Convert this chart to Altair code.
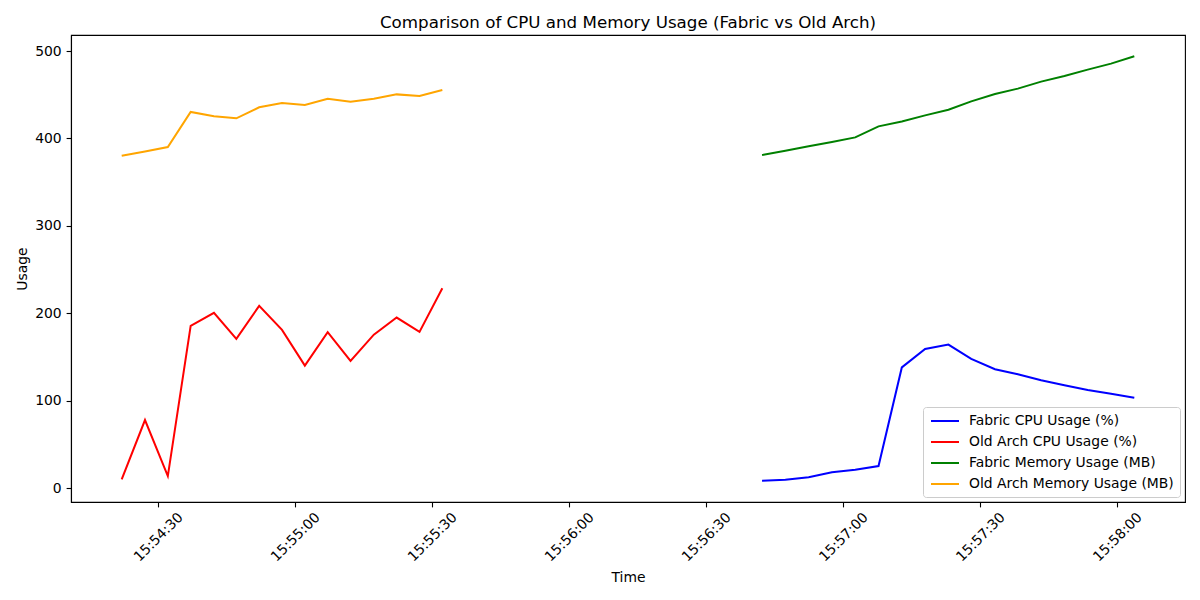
import altair as alt
import pandas as pd

# ---- data ----
old_times = ["15:54:22.0", "15:54:27.1", "15:54:32.1", "15:54:37.1", "15:54:42.2",
             "15:54:47.1", "15:54:52.1", "15:54:57.1", "15:55:02.1", "15:55:07.1",
             "15:55:12.1", "15:55:17.2", "15:55:22.2", "15:55:27.2", "15:55:32.2"]
old_cpu = [10.2, 78.0, 14.0, 185.7, 200.6, 170.9, 208.6, 181.1, 140.2, 178.5,
           145.6, 175.7, 195.2, 178.8, 228.8]
old_mem = [380.3, 385.2, 390.2, 430.3, 425.3, 423.0, 435.6, 440.6, 438.3, 445.5,
           442.0, 445.5, 450.4, 448.6, 455.5]

fabric_times = ["15:56:42.2", "15:56:47.3", "15:56:52.4", "15:56:57.5", "15:57:02.6",
                "15:57:07.7", "15:57:12.8", "15:57:17.9", "15:57:23.0", "15:57:28.0",
                "15:57:33.2", "15:57:38.2", "15:57:43.3", "15:57:48.4", "15:57:53.5",
                "15:57:58.6", "15:58:03.7"]
fabric_cpu = [8.6, 9.7, 12.5, 18.2, 21.2, 25.4, 138.2, 159.3, 164.3, 147.9,
              136.1, 130.4, 123.5, 117.8, 112.4, 108.2, 103.6]
fabric_mem = [381.0, 386.0, 391.0, 396.0, 401.2, 413.8, 419.5, 426.4, 432.9, 442.4,
              450.9, 457.0, 465.0, 471.5, 478.7, 485.6, 494.0]

series_names = ["Fabric CPU Usage (%)", "Old Arch CPU Usage (%)",
                "Fabric Memory Usage (MB)", "Old Arch Memory Usage (MB)"]
series_colors = ["blue", "red", "green", "orange"]
x_tick_labels = ["15:54:30", "15:55:00", "15:55:30", "15:56:00",
                 "15:56:30", "15:57:00", "15:57:30", "15:58:00"]
y_ticks = [0, 100, 200, 300, 400, 500]
x_range = ["15:54:10.9", "15:58:14.8"]
y_range = [-15.7, 518.3]

DAY = "2024-01-01T"


def iso(t):
    hms, frac = (t.split(".") + ["0"])[:2]
    return f"{DAY}{hms}.{frac.ljust(3, '0')}"


def dt(t):
    hms, frac = (t.split(".") + ["0"])[:2]
    h, m, s = (int(v) for v in hms.split(":"))
    return alt.DateTime(year=2024, month=1, date=1, hours=h, minutes=m,
                        seconds=s, milliseconds=int(frac.ljust(3, "0")))


rows = []
for name, times, vals in [
    (series_names[0], fabric_times, fabric_cpu),
    (series_names[1], old_times, old_cpu),
    (series_names[2], fabric_times, fabric_mem),
    (series_names[3], old_times, old_mem),
]:
    for i, (t, v) in enumerate(zip(times, vals)):
        rows.append({"time": iso(t), "value": v, "series": name, "order": i})
df = pd.DataFrame(rows)

FONT = "DejaVu Sans"
W, H = 1114, 467

chart = alt.Chart(df).mark_line(strokeWidth=2).encode(
    x=alt.X(
        "time:T",
        scale=alt.Scale(domain=[dt(x_range[0]), dt(x_range[1])], nice=False),
        axis=alt.Axis(
            title="Time",
            values=[dt(t) for t in x_tick_labels],
            format="%H:%M:%S",
            labelAngle=-45,
            labelAlign="center",
            labelBaseline="middle",
            labelPadding=30,
            labelOverlap=False,
            labelFlush=False,
            titleX=W / 2,
            titleY=75,
            titleBaseline="middle",
            titleAlign="center",
        ),
    ),
    y=alt.Y(
        "value:Q",
        scale=alt.Scale(domain=y_range, nice=False, zero=False),
        axis=alt.Axis(
            title="Usage",
            values=y_ticks,
            labelPadding=4.9,
            titleX=-49,
            titleY=H / 2,
            titleBaseline="middle",
            titleAlign="center",
            titleAngle=-90,
        ),
    ),
    color=alt.Color(
        "series:N",
        scale=alt.Scale(domain=series_names, range=series_colors),
        legend=alt.Legend(
            title=None,
            orient="none",
            legendX=852,
            legendY=372,
            symbolType="M-2,0L2,0",
            symbolSize=196,
            symbolStrokeWidth=2,
            symbolOffset=8,
            labelFontSize=13.9,
            labelFont=FONT,
            labelColor="black",
            labelOffset=16,
            labelLimit=400,
            rowPadding=6,
            padding=6,
            strokeColor="#cccccc",
            fillColor="white",
            cornerRadius=3,
        ),
    ),
    detail="series:N",
    order="order:Q",
).properties(
    width=W,
    height=H,
    title=alt.TitleParams(
        "Comparison of CPU and Memory Usage (Fabric vs Old Arch)",
        font=FONT, fontSize=16.7, fontWeight="normal", color="black",
        anchor="middle", offset=13, baseline="middle", dy=18,
    ),
    autosize=alt.AutoSizeParams(type="none"),
    padding={"left": 63, "top": 27, "right": 7, "bottom": 89},
).configure_view(
    stroke="black", strokeWidth=1.1
).configure_axis(
    grid=False,
    domainColor="black",
    domainWidth=1.1,
    tickColor="black",
    tickSize=4.9,
    tickWidth=1.1,
    labelFont=FONT,
    labelFontSize=13.9,
    labelColor="black",
    titleFont=FONT,
    titleFontSize=13.9,
    titleFontWeight="normal",
    titleColor="black",
)

chart.save("out.html", embed_options={"renderer": "svg", "actions": False})
